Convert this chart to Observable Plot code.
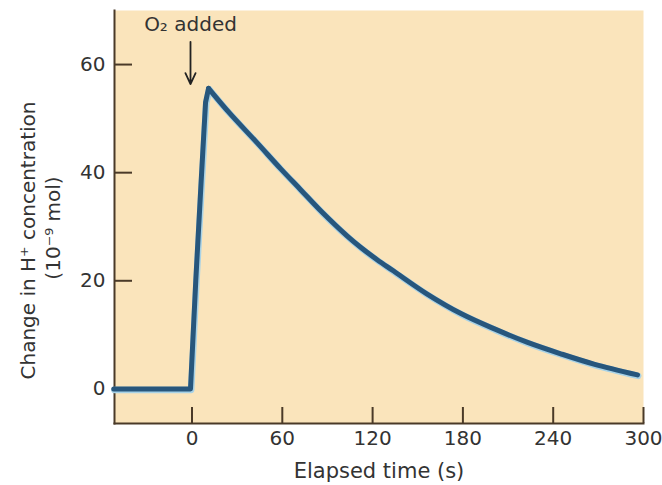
<!DOCTYPE html>
<html>
<head>
<meta charset="utf-8">
<script src="https://cdn.jsdelivr.net/npm/d3@7"></script>
<script src="https://cdn.jsdelivr.net/npm/@observablehq/plot@0.6"></script>
<style>
  html, body { margin: 0; padding: 0; background: #ffffff; }
  svg { display: block; }
</style>
</head>
<body>
<div id="chart"></div>
<script>
// ---- data ----
// rise after O2 is added
const riseTime   = [-52, -20, -1, 2.5, 6, 9, 11];
const riseChange = [0, 0, 0, 20, 38, 53, 55.6];
// decay after the peak
const decayTime   = [11, 25, 43, 59, 72, 86, 103, 112, 123, 134, 156, 179, 201, 223, 245, 267, 296];
const decayChange = [55.6, 51.0, 45.6, 40.7, 36.9, 32.8, 28.3, 26.2, 23.9, 21.8, 17.6, 13.9, 11.1, 8.6, 6.5, 4.6, 2.6];
const xTicks = [0, 60, 120, 180, 240, 300];
const yTicks = [0, 20, 40, 60];
const xDomain = [-51.5, 300];
const yDomain = [-6.4, 70];
const annotText = ["O\u2082 added"];
const annotTime = [-1];
const annotTextValue = [67.4];
const arrowFrom = [64.2];
const arrowTo = [56.4];
const xLabel = "Elapsed time (s)";
const yLabelLine1 = "Change in H\u207A concentration";
const yLabelLine2 = "(10\u207B\u2079 mol)";

const rise = riseTime.map((t, i) => ({t, v: riseChange[i]}));
const decay = decayTime.map((t, i) => ({t, v: decayChange[i]}));
const annot = annotText.map((s, i) => ({s, t: annotTime[i], v: annotTextValue[i], a1: arrowFrom[i], a2: arrowTo[i]}));

const ink = "#4a3a28";
const textColor = "#333333";
const font = "'DejaVu Sans', 'Liberation Sans', Arial, sans-serif";
const fs = 20;
const lineDark = "#27567c";
const lineLight = "#a8d2e6";

const chart = Plot.plot({
  width: 662,
  height: 485,
  marginLeft: 114,
  marginRight: 19,
  marginTop: 10,
  marginBottom: 62,
  style: {fontFamily: font, fontSize: fs + "px", color: textColor, background: "#ffffff"},
  x: {domain: xDomain},
  y: {domain: yDomain},
  marks: [
    Plot.frame({fill: "#fae4bb", stroke: null}),
    // axes lines
    Plot.frame({anchor: "left", stroke: ink, strokeWidth: 2}),
    Plot.frame({anchor: "bottom", stroke: ink, strokeWidth: 2}),
    // inward ticks
    Plot.axisY({ticks: yTicks, tickSize: -18, tickFormat: () => "", stroke: ink, strokeWidth: 2, label: null}),
    Plot.axisX({ticks: xTicks, tickSize: -16, tickFormat: () => "", stroke: ink, strokeWidth: 2, label: null}),
    // tick labels
    Plot.axisY({ticks: yTicks, tickSize: 0, tickPadding: 9, fontSize: fs, fill: textColor, label: null}),
    Plot.axisX({ticks: xTicks, tickSize: 0, tickPadding: 7, fontSize: fs, fill: textColor, label: null}),
    // curve: light fringe then dark line
    Plot.line(rise, {x: "t", y: "v", stroke: lineLight, strokeWidth: 6.5, curve: "linear", dy: 1, dx: 0.7, strokeLinejoin: "round", strokeLinecap: "round"}),
    Plot.line(decay, {x: "t", y: "v", stroke: lineLight, strokeWidth: 6.5, curve: "catmull-rom", dy: 1, dx: 0.7, strokeLinejoin: "round", strokeLinecap: "round"}),
    Plot.line(rise, {x: "t", y: "v", stroke: lineDark, strokeWidth: 5, curve: "linear", strokeLinejoin: "round", strokeLinecap: "round"}),
    Plot.line(decay, {x: "t", y: "v", stroke: lineDark, strokeWidth: 5, curve: "catmull-rom", strokeLinejoin: "round", strokeLinecap: "round"}),
    // annotation
    Plot.text(annot, {x: "t", y: "v", text: "s", fontSize: fs, fill: textColor, textAnchor: "middle"}),
    Plot.arrow(annot, {x1: "t", x2: "t", y1: "a1", y2: "a2", stroke: "#222", strokeWidth: 1.8, headLength: 10, headAngle: 50, bend: 0}),
    // axis titles
    Plot.text([xLabel], {frameAnchor: "bottom", lineAnchor: "middle", text: d => d, dy: 48, fontSize: 21, fill: textColor}),
    Plot.text([yLabelLine1], {frameAnchor: "left", textAnchor: "middle", lineAnchor: "middle", text: d => d, rotate: -90, dx: -86, dy: 23.5, fontSize: fs, fill: textColor}),
    Plot.text([yLabelLine2], {frameAnchor: "left", textAnchor: "middle", lineAnchor: "middle", text: d => d, rotate: -90, dx: -61, dy: 11, fontSize: fs, fill: textColor})
  ]
});
document.getElementById("chart").appendChild(chart);
</script>
</body>
</html>
